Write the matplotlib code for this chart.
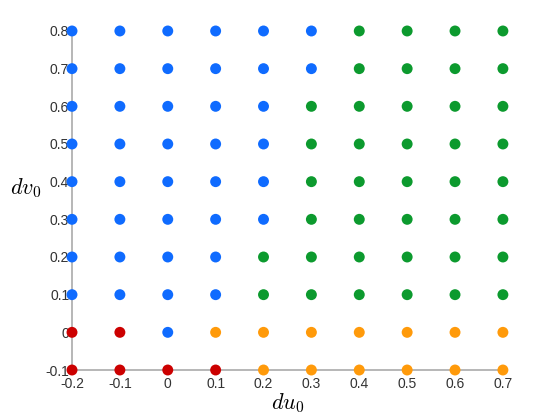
import numpy as np
import matplotlib
matplotlib.use("Agg")
import matplotlib.pyplot as plt

plt.rcParams["font.family"] = ["Liberation Sans", "DejaVu Sans"]
plt.rcParams["mathtext.fontset"] = "cm"

# grid of initial perturbations
du_vals = [-0.2, -0.1, 0.0, 0.1, 0.2, 0.3, 0.4, 0.5, 0.6, 0.7]
dv_vals = [-0.1, 0.0, 0.1, 0.2, 0.3, 0.4, 0.5, 0.6, 0.7, 0.8]

# outcome class per row (bottom row first), one letter per du value
# r = red, b = blue, o = orange, g = green
outcome_rows = [
    "rrrroooooo",  # dv = -0.1
    "rrbooooooo",  # dv = 0
    "bbbbgggggg",  # dv = 0.1
    "bbbbgggggg",  # dv = 0.2
    "bbbbbggggg",  # dv = 0.3
    "bbbbbggggg",  # dv = 0.4
    "bbbbbggggg",  # dv = 0.5
    "bbbbbggggg",  # dv = 0.6
    "bbbbbbgggg",  # dv = 0.7
    "bbbbbbgggg",  # dv = 0.8
]

colors = {"r": "#cc0000", "b": "#0f6bff", "o": "#ff9a0a", "g": "#0c9a2e"}

fig = plt.figure(figsize=(5.56, 4.17), dpi=100)
ax = fig.add_axes([0.1295, 0.1127, 0.775, 0.813])

xs, ys, cs = [], [], []
for j, row in enumerate(outcome_rows):
    for i, c in enumerate(row):
        xs.append(du_vals[i])
        ys.append(dv_vals[j])
        cs.append(colors[c])

ax.scatter(xs, ys, c=cs, s=62, clip_on=False, zorder=3, linewidths=0)

ax.set_xlim(-0.2, 0.7)
ax.set_ylim(-0.1, 0.8)
ax.set_xticks(du_vals)
ax.set_xticklabels(["-0.2", "-0.1", "0", "0.1", "0.2", "0.3", "0.4", "0.5", "0.6", "0.7"])
ax.set_yticks(dv_vals)
ax.set_yticklabels(["-0.1", "0", "0.1", "0.2", "0.3", "0.4", "0.5", "0.6", "0.7", "0.8"])
ax.tick_params(length=0, labelsize=10, colors="#333333")
ax.tick_params(axis="x", pad=5)
ax.tick_params(axis="y", pad=2)

for side in ["top", "right"]:
    ax.spines[side].set_visible(False)
for side in ["left", "bottom"]:
    ax.spines[side].set_color("#aaaaaa")
    ax.spines[side].set_linewidth(1.2)

ax.set_xlabel("$du_0$", fontsize=16, labelpad=0)
ax.set_ylabel("$dv_0$", fontsize=16, rotation=0, labelpad=14)

fig.savefig("out.png", dpi=100)
